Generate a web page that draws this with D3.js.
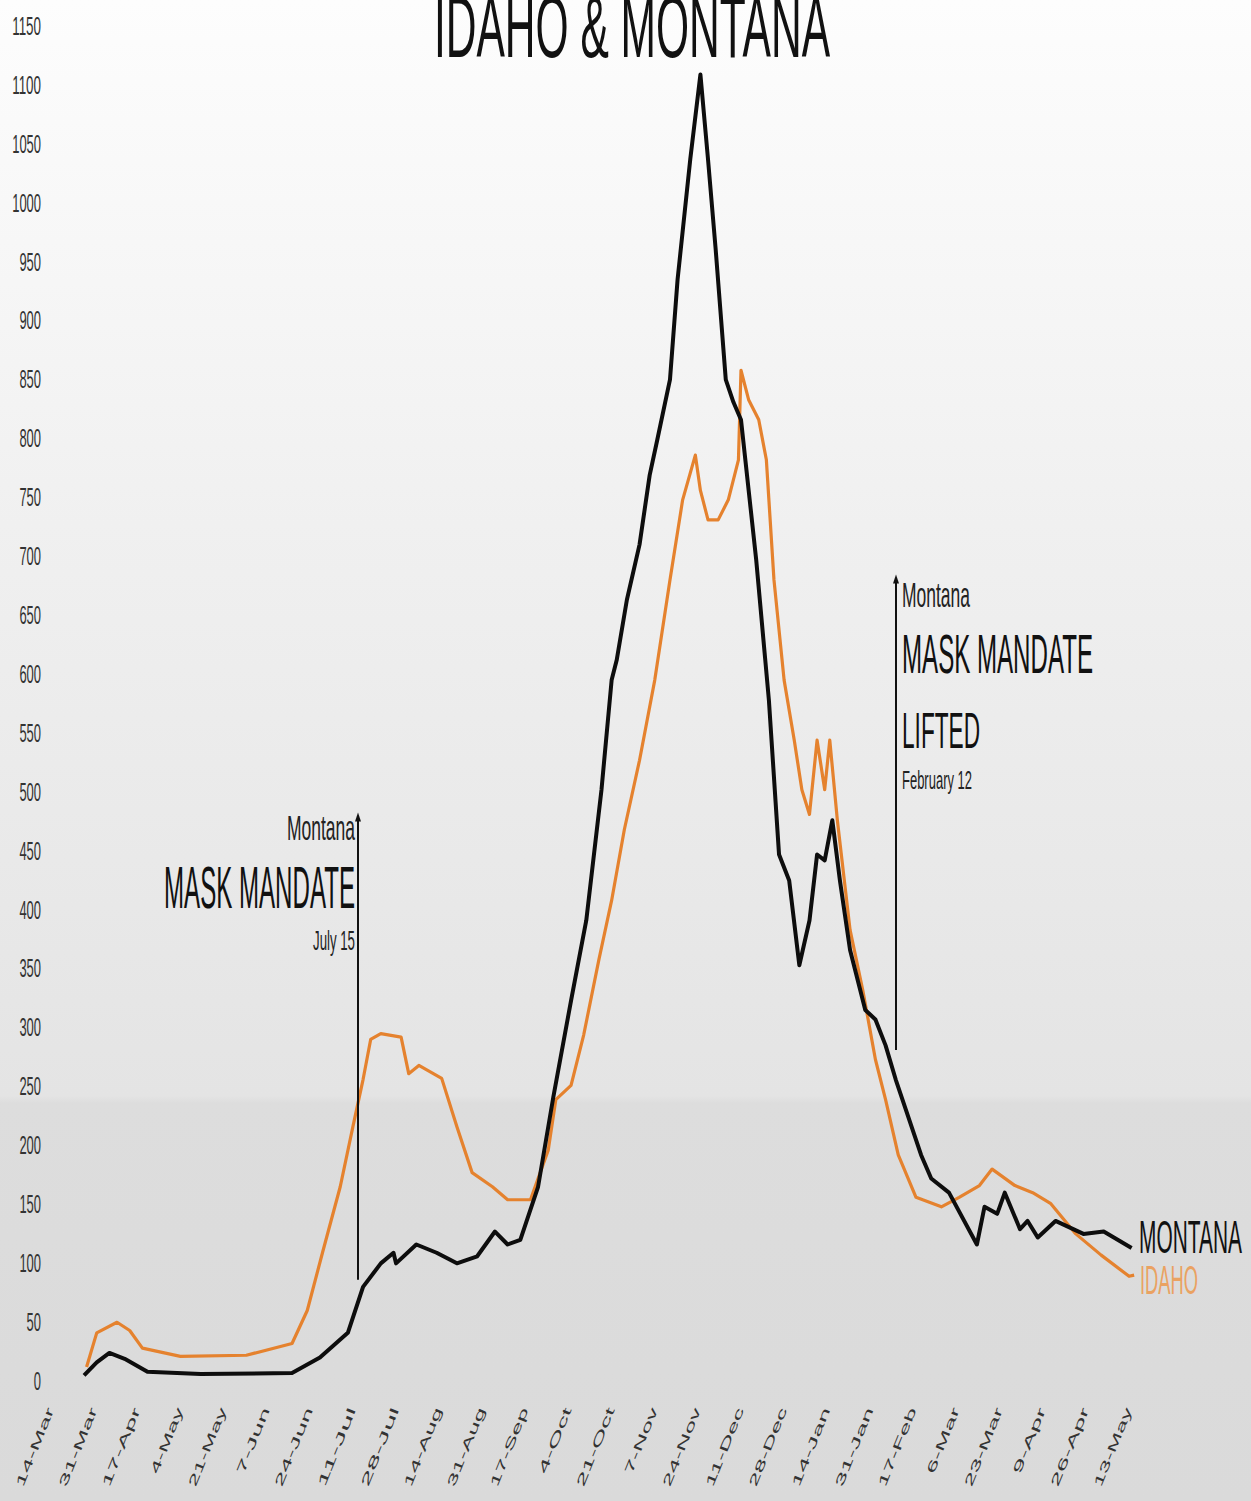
<!DOCTYPE html>
<html>
<head>
<meta charset="utf-8">
<script src="https://cdn.jsdelivr.net/npm/d3@7"></script>
<style>
  html, body { margin: 0; padding: 0; background: #f0f0f0; }
  svg { display: block; font-family: "Liberation Sans", Arial, sans-serif; }
</style>
</head>
<body>
<script>
// canvas size
var w = 1251;
var h = 1501;

// Montana, 7-day average new cases
var montanaDates = ["2020-03-29","2020-04-03","2020-04-08","2020-04-14","2020-04-23","2020-05-14","2020-06-19","2020-06-30",
  "2020-07-11","2020-07-17","2020-07-24","2020-07-29","2020-07-30","2020-08-07","2020-08-15","2020-08-23","2020-08-31",
  "2020-09-07","2020-09-12","2020-09-17","2020-09-24","2020-09-30","2020-10-07","2020-10-13","2020-10-19","2020-10-23",
  "2020-10-25","2020-10-29","2020-11-03","2020-11-07","2020-11-10","2020-11-15","2020-11-18","2020-11-23","2020-11-27",
  "2020-11-30","2020-12-03","2020-12-07","2020-12-10","2020-12-13","2020-12-19","2020-12-24","2020-12-28","2021-01-01",
  "2021-01-05","2021-01-09","2021-01-12","2021-01-15","2021-01-18","2021-01-21","2021-01-25","2021-01-31","2021-02-04",
  "2021-02-08","2021-02-12","2021-02-22","2021-02-26","2021-03-05","2021-03-16","2021-03-19","2021-03-24","2021-03-27",
  "2021-04-02","2021-04-05","2021-04-09","2021-04-16","2021-04-27","2021-05-05","2021-05-16"];
var montanaValues = [4,15,23,18,7,5,6,19,
  40,79,99,108,99,115,108,99,105,
  126,115,119,164,240,322,390,501,594,
  611,662,709,768,798,849,934,1036,1108,
  1036,960,849,830,815,696,577,446,424,
  352,390,446,441,475,424,365,314,306,
  284,255,191,171,159,115,147,141,159,
  128,135,121,135,124,126,112];

// Idaho
var idahoDates = ["2020-03-30","2020-04-03","2020-04-11","2020-04-16","2020-04-21","2020-05-06","2020-06-01","2020-06-19",
  "2020-06-25","2020-07-01","2020-07-08","2020-07-13","2020-07-17","2020-07-20","2020-07-24","2020-08-01","2020-08-04",
  "2020-08-08","2020-08-17","2020-08-23","2020-08-29","2020-09-06","2020-09-12","2020-09-21","2020-09-28","2020-10-01",
  "2020-10-07","2020-10-12","2020-10-18","2020-10-23","2020-10-28","2020-11-03","2020-11-09","2020-11-15","2020-11-20",
  "2020-11-25","2020-11-27","2020-11-30","2020-12-04","2020-12-08","2020-12-12","2020-12-13","2020-12-16","2020-12-20",
  "2020-12-23","2020-12-26","2020-12-30","2021-01-03","2021-01-06","2021-01-09","2021-01-12","2021-01-15","2021-01-17",
  "2021-01-20","2021-01-25","2021-01-30","2021-02-04","2021-02-08","2021-02-13","2021-02-20","2021-03-02","2021-03-09",
  "2021-03-17","2021-03-22","2021-03-31","2021-04-07","2021-04-14","2021-04-24","2021-05-04","2021-05-15","2021-05-17"];
var idahoValues = [11,40,49,42,27,20,21,31,
  59,108,164,215,255,289,294,291,260,
  267,256,215,176,164,153,153,195,238,
  250,293,357,407,467,526,594,679,747,
  785,755,730,730,747,781,857,832,815,
  781,679,594,543,501,480,543,501,543,
  475,382,331,272,238,191,155,147,155,
  165,179,165,159,150,124,106,88,89];

// axis ticks
var yTicks = [0,50,100,150,200,250,300,350,400,450,500,550,600,650,700,750,800,850,900,950,1000,1050,1100,1150];
var xTickDates = ["2020-03-14","2020-03-31","2020-04-17","2020-05-04","2020-05-21","2020-06-07","2020-06-24","2020-07-11",
  "2020-07-28","2020-08-14","2020-08-31","2020-09-17","2020-10-04","2020-10-21","2020-11-07","2020-11-24","2020-12-11",
  "2020-12-28","2021-01-14","2021-01-31","2021-02-17","2021-03-06","2021-03-23","2021-04-09","2021-04-26","2021-05-13"];

// annotations (mask mandate start / end in Montana)
var annDates = ["2020-07-15","2021-02-12"];
var annTop = [480, 682];
var annBottom = [85, 280];

var parse = d3.utcParse("%Y-%m-%d");
var fmt = d3.utcFormat("%-d-%b");

var montana = montanaDates.map(function(d, i) { return {date: parse(d), value: montanaValues[i]}; });
var idaho = idahoDates.map(function(d, i) { return {date: parse(d), value: idahoValues[i]}; });

var x = d3.scaleUtc()
    .domain([parse("2020-03-14"), parse("2021-05-13")])
    .range([46, 1124]);

var y = d3.scaleLinear()
    .domain([0, 1150])
    .range([1380, 25]);

var svg = d3.select("body")
    .append("svg")
    .attr("width", w)
    .attr("height", h);

// background gradient
var grad = svg.append("defs").append("linearGradient")
    .attr("id", "bg")
    .attr("x1", 0).attr("y1", 0).attr("x2", 0).attr("y2", 1);
grad.append("stop").attr("offset", "0").attr("stop-color", "#fdfdfd");
grad.append("stop").attr("offset", "0.35").attr("stop-color", "#f0f0f0");
grad.append("stop").attr("offset", "0.73").attr("stop-color", "#e4e4e4");
grad.append("stop").attr("offset", "0.735").attr("stop-color", "#dddddd");
grad.append("stop").attr("offset", "1").attr("stop-color", "#dadada");

svg.append("rect")
    .attr("width", w)
    .attr("height", h)
    .attr("fill", "url(#bg)");

// helper for the condensed-looking text
function addText(xp, yp, str, size, len, anchor, fill) {
    var x0 = anchor === "end" ? xp - len : xp;
    return svg.append("text")
        .attr("x", x0)
        .attr("y", yp)
        .attr("font-size", size)
        .attr("textLength", len)
        .attr("lengthAdjust", "spacingAndGlyphs")
        .attr("fill", fill)
        .text(str);
}

// title
addText(434, 57, "IDAHO & MONTANA", 88, 396, "start", "#111");

// y axis
var yAxis = svg.append("g")
    .attr("transform", "translate(44,0)")
    .call(d3.axisLeft(y).tickValues(yTicks).tickFormat(d3.format("d")).tickSize(0));
yAxis.select(".domain").remove();
yAxis.selectAll("text")
    .attr("font-family", "Liberation Sans, Arial, sans-serif")
    .attr("font-size", 26)
    .attr("fill", "#333")
    .attr("text-anchor", "start")
    .attr("dy", "0.36em")
    .each(function(d) {
        var len = String(d).length * 7.2;
        d3.select(this)
            .attr("x", -3 - len)
            .attr("textLength", len)
            .attr("lengthAdjust", "spacingAndGlyphs");
    });

// x axis with steep rotated labels
var xAxis = svg.append("g")
    .attr("transform", "translate(0,1408)")
    .call(d3.axisBottom(x).tickValues(xTickDates.map(parse)).tickFormat(fmt).tickSize(0));
xAxis.select(".domain").remove();
xAxis.selectAll("text")
    .attr("font-family", "Liberation Sans, Arial, sans-serif")
    .attr("font-size", 12)
    .attr("fill", "#333")
    .attr("text-anchor", "start")
    .attr("dy", "0.35em")
    .attr("y", 0)
    .each(function(d) {
        var len = fmt(d).length * 14;
        d3.select(this)
            .attr("x", -len)
            .attr("textLength", len)
            .attr("lengthAdjust", "spacingAndGlyphs")
            .attr("transform", "translate(4,0) rotate(-68)");
    });

// lines
var line = d3.line()
    .x(function(d) { return x(d.date); })
    .y(function(d) { return y(d.value); });

svg.append("path")
    .datum(idaho)
    .attr("fill", "none")
    .attr("stroke", "#e5822e")
    .attr("stroke-width", 3.2)
    .attr("stroke-linejoin", "round")
    .attr("d", line);

svg.append("path")
    .datum(montana)
    .attr("fill", "none")
    .attr("stroke", "#0d0d0d")
    .attr("stroke-width", 4)
    .attr("stroke-linejoin", "round")
    .attr("d", line);

// annotation lines with arrowheads
annDates.forEach(function(d, i) {
    var ax = Math.round(x(parse(d)));
    svg.append("line")
        .attr("x1", ax).attr("x2", ax)
        .attr("y1", y(annTop[i]) + 4)
        .attr("y2", y(annBottom[i]))
        .attr("stroke", "#111")
        .attr("stroke-width", 2);
    svg.append("path")
        .attr("d", "M" + (ax - 3) + "," + (y(annTop[i]) + 7) + "L" + ax + "," + (y(annTop[i]) - 2) + "L" + (ax + 3) + "," + (y(annTop[i]) + 7) + "Z")
        .attr("fill", "#111");
});

// left annotation text
addText(355, 840, "Montana", 35, 68, "end", "#222");
addText(355, 908, "MASK MANDATE", 60, 191, "end", "#111");
addText(355, 950, "July 15", 27, 42, "end", "#222");

// right annotation text
addText(902, 607, "Montana", 35, 68, "start", "#222");
addText(902, 673, "MASK MANDATE", 55, 191, "start", "#111");
addText(902, 748, "LIFTED", 50, 78, "start", "#111");
addText(902, 789, "February 12", 25, 70, "start", "#222");

// series labels
addText(1139, 1253, "MONTANA", 46, 103, "start", "#111");
addText(1140, 1294, "IDAHO", 40, 58, "start", "#eaa262");
</script>
</body>
</html>
